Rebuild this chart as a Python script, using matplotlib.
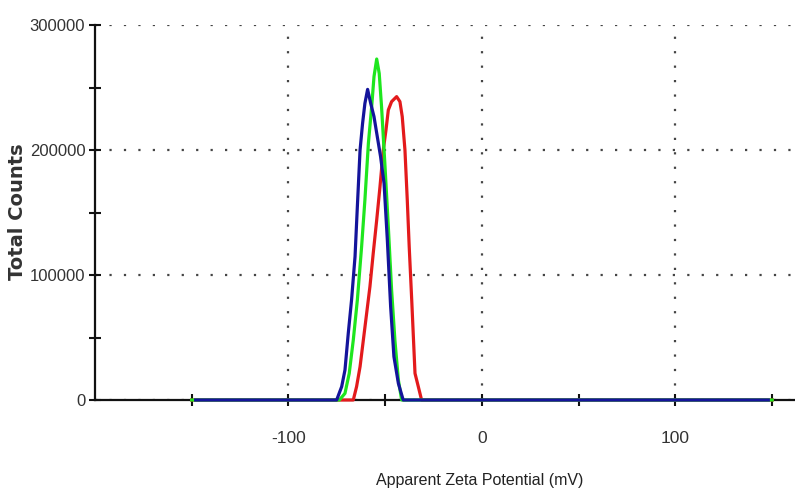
import matplotlib
matplotlib.use("Agg")
import matplotlib.pyplot as plt
from matplotlib.ticker import FixedLocator

# ---- data (mV, counts) ----
blue_x = [-148, -75.1, -72.5, -70.8, -69.1, -67.4, -65.6, -64.4, -63.0, -61.7, -60.5,
          -59.1, -57.5, -55.8, -54.1, -52.4, -50.6, -48.9, -47.2, -45.5, -43.2, -40.7, 148]
blue_y = [0, 0, 10700, 24000, 53300, 80000, 114700, 154700, 200000, 221300, 237300,
          248500, 237300, 226700, 210700, 194700, 173300, 128000, 74700, 34700, 13300, 0, 0]

green_x = [-150, -73.7, -70.8, -68.6, -66.5, -64.4, -62.2, -60.5, -58.7, -57.0, -55.8,
           -54.4, -53.1, -51.9, -50.1, -48.4, -46.7, -45.0, -43.2, -41.5, 150]
green_y = [0, 0, 5300, 21300, 48000, 80000, 122700, 160000, 205300, 234700, 258700,
           272800, 261300, 234700, 186700, 138700, 88000, 48000, 16000, 0, 0]

red_x = [-150, -69.1, -66.5, -64.8, -63.0, -61.3, -59.6, -57.9, -56.2, -54.4, -52.7,
         -51.0, -49.6, -48.4, -46.7, -44.1, -42.4, -41.2, -39.8, -38.6, -37.6, -36.3,
         -34.6, -32.9, -31.2, 150]
red_y = [0, 0, 0, 10700, 26700, 48000, 69300, 90700, 117300, 144000, 170700,
         200000, 216000, 232000, 238700, 242700, 238700, 226700, 200000, 160000, 122700,
         80000, 21300, 10700, 0, 0]

x_major = [-100, 0, 100]
x_minor = [-150, -50, 50, 150]
y_major = [0, 100000, 200000, 300000]
y_minor = [50000, 150000, 250000]

sans = ['Liberation Sans', 'DejaVu Sans']

fig = plt.figure(figsize=(7.95, 4.93), dpi=100)
ax = fig.add_axes([95/795, 93/493, 700/795, 375/493])

ax.plot(red_x, red_y, color='#e31a1c', lw=2.3, zorder=3, clip_on=False)
ax.plot(green_x, green_y, color='#1ee61e', lw=2.3, zorder=3.1, clip_on=False)
ax.plot(blue_x, blue_y, color='#14149b', lw=2.3, zorder=3.2, clip_on=False)

ax.set_xlim(-200, 161.8)
ax.set_ylim(0, 300000)

for s in ['top', 'right']:
    ax.spines[s].set_visible(False)
for s in ['left', 'bottom']:
    ax.spines[s].set_linewidth(1.6)
    ax.spines[s].set_color('#111111')

ax.xaxis.set_major_locator(FixedLocator(x_major))
ax.xaxis.set_minor_locator(FixedLocator(x_minor))
ax.yaxis.set_major_locator(FixedLocator(y_major))
ax.yaxis.set_minor_locator(FixedLocator(y_minor))
ax.set_xticklabels([str(v) for v in x_major], family=sans, fontsize=12.5, color='#333333')
ax.set_yticklabels([str(v) for v in y_major], family=sans, fontsize=12, color='#333333')

ax.tick_params(axis='both', which='both', direction='inout', length=8, width=1.5,
               color='#111111')
ax.tick_params(axis='x', which='major', pad=18)
ax.tick_params(axis='y', which='major', pad=3)

ax.grid(True, which='major', color='#444444', linestyle=(0, (1.0, 5.5)), linewidth=1.6)

fig.text(480/795, (493-481)/493, 'Apparent Zeta Potential (mV)', family=sans,
         fontsize=11.5, color='#222222', ha='center', va='center')
fig.text(18/795, (493-212)/493, 'Total Counts', family=['DejaVu Sans'],
         fontweight='bold', fontsize=14, color='#333333', ha='center', va='center',
         rotation=90)

fig.savefig('out.png', dpi=100)
